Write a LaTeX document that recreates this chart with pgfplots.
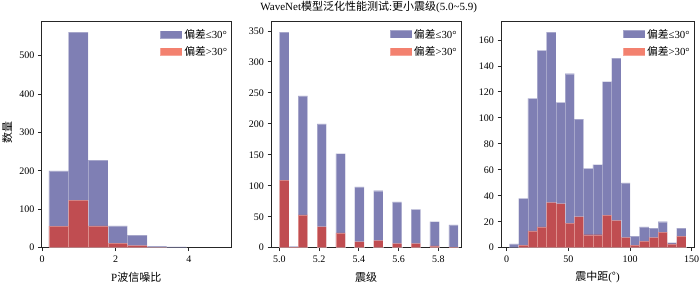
\documentclass[border=0pt]{standalone}
\usepackage{fontspec}
\setmainfont{Liberation Serif}
\newfontfamily\cjk{Noto Sans CJK SC}
\usepackage{pgfplots}
\pgfplotsset{compat=1.18}
\definecolor{bblue}{RGB}{0,0,105}
\definecolor{rred}{RGB}{235,45,15}
\newcommand{\lega}{{\cjk 偏差}≤30°}
\newcommand{\legb}{{\cjk 偏差}>30°}
\pgfplotsset{
  myax/.style={
    scale only axis, height=226.7pt, anchor=south west,
    axis line style={black!85, line width=0.8pt},
    tick align=outside, major tick length=3.5pt,
    xtick pos=bottom, ytick pos=left,
    tick style={black!85, line width=0.8pt},
    ymin=0,
    ticklabel style={font=\fontsize{10}{12}\selectfont},
    xticklabel style={yshift=-1.5pt},
    /pgf/number format/assume math mode=true,
    legend style={draw=none, fill=none, at={(1,1)}, anchor=north east,
      xshift=-1pt, yshift=-5pt,
      font=\fontsize{10.8}{12}\selectfont, row sep=2.5pt, inner sep=1pt},
    legend cell align=left,
    legend image code/.code={\fill[##1] (0pt,-4pt) rectangle (22pt,4pt);},
    every axis x label/.append style={at={(axis description cs:0.5,-0.131)}, anchor=center, font=\fontsize{11}{12}\selectfont},
    every axis y label/.append style={font=\fontsize{11}{12}\selectfont},
  },
  bstyle/.style={fill=bblue, fill opacity=0.5, draw=white, draw opacity=0.3, line width=0.4pt},
  rstyle/.style={fill=rred, fill opacity=0.6, draw=white, draw opacity=0.3, line width=0.4pt},
}
\begin{document}
\begin{tikzpicture}
\path[use as bounding box] (0pt,0pt) rectangle (700pt,283pt);
\node[font=\fontsize{11}{12}\selectfont] at (368.7pt,275.5pt) {WaveNet{\cjk 模型泛化性能测试}:{\cjk 更小震级}(5.0\textasciitilde5.9)};

% Panel 1: P-wave SNR
\begin{axis}[myax, at={(41.3pt,35.3pt)}, width=190pt,
  xmin=-0.025, xmax=5.16, ymax=590,
  xtick={0,2,4}, ytick={0,100,200,300,400,500},
  xlabel={P{\cjk 波信噪比}},
  ylabel={\cjk 数量},
  every axis y label/.append style={at={(axis description cs:-0.179,0.51)}, anchor=center},
]
\addplot[ybar interval, bstyle] coordinates {
(0.181,200) (0.717,561) (1.253,228) (1.789,57) (2.325,33) (2.861,4) (3.397,2) (3.933,0)};
\addlegendentry{\lega}
\addplot[ybar interval, rstyle] coordinates {
(0.181,56) (0.717,124) (1.253,57) (1.789,12) (2.325,6) (2.861,1) (3.397,0)};
\addlegendentry{\legb}
\end{axis}

% Panel 2: magnitude
\begin{axis}[myax, at={(271pt,35.3pt)}, width=190pt,
  xmin=4.958, xmax=5.914, ymax=366,
  xtick={5.0,5.2,5.4,5.6,5.8}, ytick={0,50,100,150,200,250,300,350},
  xticklabel style={/pgf/number format/.cd, fixed, fixed zerofill, precision=1},
  xlabel={\cjk 震级},
]
\addplot[ybar, bar width=0.047368, bstyle] coordinates {
(5.0237,348) (5.0711,2) (5.1184,245) (5.2132,200) (5.3079,152) (5.4026,98)
(5.4974,92) (5.5921,74) (5.6868,62) (5.7816,42) (5.8763,37)};
\addlegendentry{\lega}
\addplot[ybar, bar width=0.047368, rstyle] coordinates {
(5.0237,109) (5.0711,1) (5.1184,53) (5.2132,34) (5.3079,24) (5.4026,10)
(5.4974,12) (5.5921,7) (5.6868,7) (5.7816,3) (5.8763,1)};
\addlegendentry{\legb}
\end{axis}

% Panel 3: epicentral distance
\begin{axis}[myax, at={(501pt,35.3pt)}, width=193pt,
  xmin=-4.6, xmax=151.9, ymax=174.6,
  xtick={0,50,100,150}, ytick={0,20,40,60,80,100,120,140,160},
  xlabel={{\cjk 震中距}({\cjk °})},
]
\addplot[ybar interval, bstyle] coordinates {
(2.10,3) (9.64,38) (17.18,115) (24.72,152) (32.26,166) (39.80,112) (47.34,134)
(54.88,99) (62.42,61) (69.96,64) (77.50,128) (85.04,146) (92.58,50) (100.12,9)
(107.66,16) (115.20,15) (122.74,20) (130.28,4) (137.82,15) (145.36,0)};
\addlegendentry{\lega}
\addplot[ybar interval, rstyle] coordinates {
(9.64,2) (17.18,13) (24.72,16) (32.26,35) (39.80,34) (47.34,19)
(54.88,24) (62.42,10) (69.96,10) (77.50,25) (85.04,21) (92.58,8) (100.12,2)
(107.66,5) (115.20,8) (122.74,12) (130.28,3) (137.82,9) (145.36,0)};
\addlegendentry{\legb}
\end{axis}
\end{tikzpicture}
\end{document}
